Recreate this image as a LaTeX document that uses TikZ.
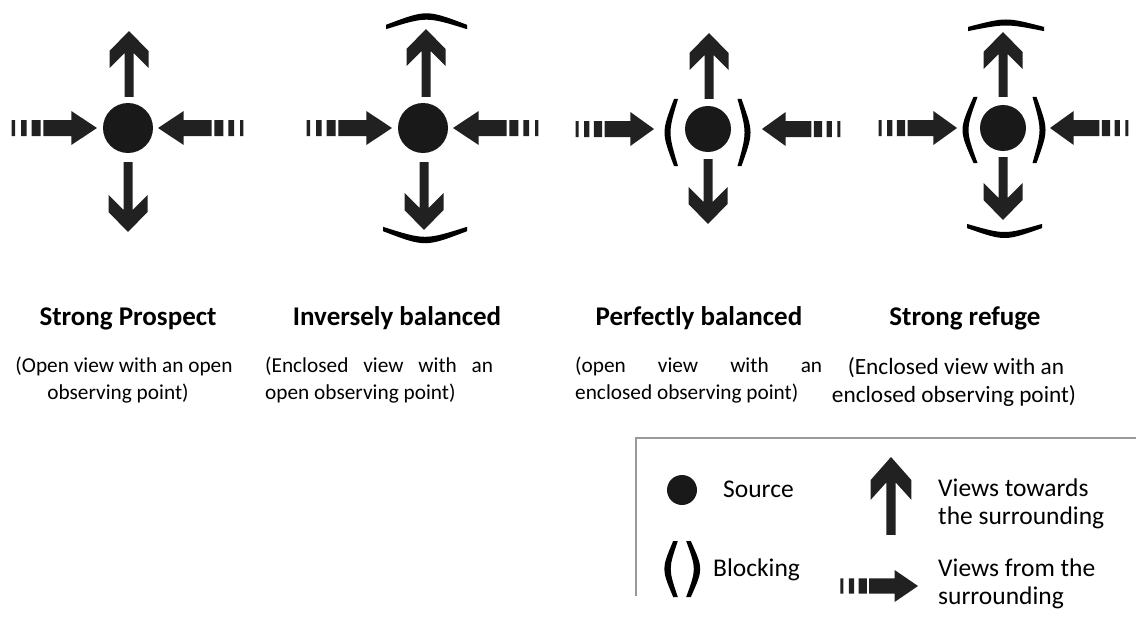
\documentclass[tikz,border=0pt]{standalone}
\usepackage{fontspec}
\setmainfont{Carlito}
% vertical view arrow: [options]{x}{tip y}{shaft length}, points up unless yscale=-1
\newcommand\vview[4][]{%
  \fill[ink,shift={(#2,#3)},#1] (0,0) -- (19.5,20) -- (19.5,37) -- (4.5,22) -- (4.5,#4)
    -- (-4.5,#4) -- (-4.5,22) -- (-19.5,37) -- (-19.5,20) -- cycle;}
% dashed incoming arrow: [options]{tip x}{y}, points right unless xscale=-1
\newcommand\hview[3][]{%
  \fill[ink,shift={(#2,#3)},#1] (0,0) -- (-25.7,-17) -- (-25.7,-8) -- (-53.7,-8) -- (-53.7,8)
    -- (-25.7,8) -- (-25.7,17) -- cycle
    (-56.3,-8) rectangle (-65.3,8) (-70.3,-8) rectangle (-76,8) (-82,-8) rectangle (-85.3,8);}
% horizontal blocking arc, tapered: {x1}{x2}{y at ends}{y at middle}{half width middle}{half width ends}
\newcommand\arcH[6]{%
  \fill[wall] (#1,{#3-#6}) .. controls ({(#1+#2)/2},{(#4-#5-0.25*(#3-#6))/0.75}) .. (#2,{#3-#6})
    -- (#2,{#3+#6}) .. controls ({(#1+#2)/2},{(#4+#5-0.25*(#3+#6))/0.75}) .. (#1,{#3+#6}) -- cycle;}
% vertical blocking arc (parenthesis), tapered: {y1}{y2}{x at ends}{x at middle}{half width middle}{half width ends}
\newcommand\arcV[6]{%
  \fill[wall] ({#3-#6},#1) .. controls ({(#4-#5-0.25*(#3-#6))/0.75},{(#1+#2)/2}) .. ({#3-#6},#2)
    -- ({#3+#6},#2) .. controls ({(#4+#5-0.25*(#3+#6))/0.75},{(#1+#2)/2}) .. ({#3+#6},#1) -- cycle;}
\begin{document}
\begin{tikzpicture}[x=1pt,y=-1pt,
  ink/.style={fill=black!87},
  wall/.style={fill=black},
  src/.style={circle,fill=black!90,inner sep=0pt,minimum size=#1},
  headline/.style={font=\fontsize{27}{32}\selectfont\bfseries,anchor=base},
  captext/.style={font=\fontsize{21.3}{26}\selectfont,inner sep=0pt},
  legtext/.style={font=\fontsize{25.5}{30}\selectfont,inner sep=0pt,anchor=base west},
  legframe/.style={draw=black!40,line width=1.2pt}]
\useasboundingbox (0,0) rectangle (1136,626);

% --- Strong prospect
\node[src=50] (s1) at (128,128) {};
\vview{129}{31}{66}
\vview[yscale=-1]{128}{232}{70}
\hview{97}{128}
\hview[xscale=-1]{158}{128}

% --- Inversely balanced
\node[src=50] (s2) at (423,128) {};
\vview{426}{29}{68}
\vview[yscale=-1]{424}{230}{68}
\hview{392}{128}
\hview[xscale=-1]{453}{128}
\arcH{386}{467}{27}{16.5}{3.2}{2.2}
\arcH{383}{467}{229}{240}{3.2}{2.2}

% --- Perfectly balanced
\node[src=46] (s3) at (708,129) {};
\vview{709}{33}{66}
\vview[yscale=-1]{708}{224}{65}
\hview[xscale=0.92]{654}{129}
\hview[xscale=-0.92]{762}{129}
\arcV{99}{166}{676}{667.5}{3}{2}
\arcV{99}{166}{739.5}{747.5}{3}{2}

% --- Strong refuge
\node[src=46] (s4) at (1003,128) {};
\vview{1003}{32}{65}
\vview[yscale=-1]{1003}{220}{63}
\hview[xscale=0.92]{957}{128}
\hview[xscale=-0.92]{1050}{128}
\arcV{97}{163}{975.5}{965.5}{3}{2}
\arcV{97}{163}{1034.5}{1042.5}{3}{2}
\arcH{968}{1044}{29}{22.5}{3}{2.1}
\arcH{967}{1042}{226}{235}{3}{2.1}

% --- titles
\node[headline] (t1) at (128,325) {Strong Prospect};
\node[headline] (t2) at (397,325) {Inversely balanced};
\node[headline] (t3) at (699,325) {Perfectly balanced};
\node[headline] (t4) at (965,325) {Strong refuge};

% --- captions
\node[captext,anchor=base] (c1a) at (124,372) {(Open view with an open};
\node[captext,anchor=base] (c1b) at (118,399) {observing point)};
\node[captext,anchor=base west] (c2a) at (265,372) {\makebox[228pt][s]{(Enclosed view with an}};
\node[captext,anchor=base west] (c2b) at (265,399) {open observing point)};
\node[captext,anchor=base west] (c3a) at (575,372) {\makebox[247pt][s]{(open view with an}};
\node[captext,anchor=base west] (c3b) at (575,399) {enclosed observing point)};
\node[captext,anchor=base,font=\fontsize{23.3}{28}\selectfont] (c4a) at (956,374) {(Enclosed view with an};
\node[captext,anchor=base,font=\fontsize{23.3}{28}\selectfont] (c4b) at (954,402) {enclosed observing point)};

% --- legend
\draw[legframe] (1136,438) -- (636,438) -- (636,596);
\node[src=30] (ls) at (682,490) {};
\node[legtext] (lsrc) at (723,497) {Source};
\arcV{541}{597}{675.5}{667.5}{3.2}{2.3}
\arcV{541}{597}{688.5}{697}{3.2}{2.3}
\node[legtext] (lblk) at (713,576) {Blocking};
\vview[xscale=1.05,yscale=1.16]{891}{457}{67.2}
\node[legtext] (lvt1) at (938,496) {Views towards};
\node[legtext] (lvt2) at (938,524) {the surrounding};
\hview[xscale=0.91,yscale=0.94]{918}{586}
\node[legtext] (lvf1) at (938,576) {Views from the};
\node[legtext] (lvf2) at (938,604) {surrounding};
\end{tikzpicture}
\end{document}
